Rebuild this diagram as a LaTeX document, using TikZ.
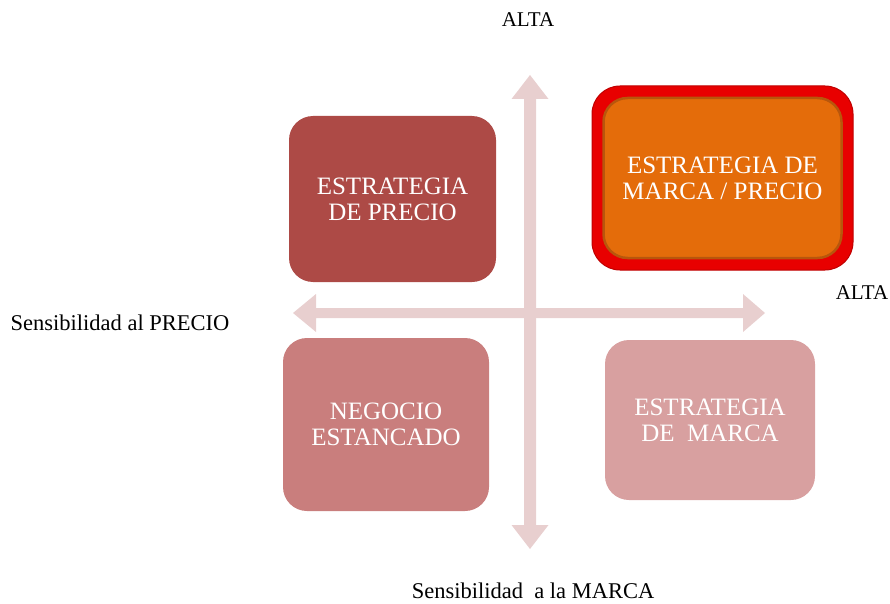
\documentclass[tikz,border=0pt]{standalone}
\usepackage{fontspec}
\setmainfont{Liberation Serif}
\definecolor{arrowc}{HTML}{E8CFCF}
\definecolor{boxA}{HTML}{AD4A46}
\definecolor{boxB}{HTML}{C97E7D}
\definecolor{boxC}{HTML}{D8A0A0}
\definecolor{boxO}{HTML}{E46C0A}
\definecolor{rimO}{HTML}{B8560C}
\definecolor{redrim}{HTML}{E80000}
\definecolor{redrimdark}{HTML}{C00000}
\tikzset{
  quad/.style={rounded corners=24pt, inner sep=0pt, align=center, text=white,
     font=\fontsize{25}{26}\selectfont},
  axislabel/.style={font=\fontsize{21}{24}\selectfont, text=black, inner sep=0pt},
  sensilabel/.style={font=\fontsize{22.5}{24}\selectfont, text=black, inner sep=0pt},
  axis/.style={fill=arrowc, draw=none}
}
\begin{document}
\begin{tikzpicture}[x=1pt,y=-1pt]
\useasboundingbox (0,0) rectangle (890,604);
% arrows
\fill[axis] (530,75) -- (548.5,99) -- (536,99) -- (536,525) -- (548.5,525) -- (530,549)
  -- (511.5,525) -- (524,525) -- (524,99) -- (511.5,99) -- cycle;
\fill[axis] (293,313) -- (316,294) -- (316,308) -- (743,308) -- (743,294) -- (765,313)
  -- (743,332) -- (743,318) -- (316,318) -- (316,332) -- cycle;
% boxes
\node[quad, fill=boxA, minimum width=207pt, minimum height=166pt] (precio) at (392.5,199) {ESTRATEGIA\\DE PRECIO};
\node[quad, fill=boxB, minimum width=206pt, minimum height=173pt] (negocio) at (386,424.5) {NEGOCIO\\ESTANCADO};
\node[quad, fill=boxC, minimum width=210pt, minimum height=160pt] (marca) at (710,420) {ESTRATEGIA\\DE\ \ MARCA};
\node[rounded corners=28pt, fill=redrim, draw=redrimdark, line width=1pt, minimum width=261pt, minimum height=184pt] (rim) at (722.5,178) {};
\node[quad, fill=boxO, draw=rimO, line width=2.5pt, minimum width=238pt, minimum height=160pt] (marcaprecio) at (722.5,178) {ESTRATEGIA DE\\MARCA / PRECIO};
% labels
\node[axislabel] (altaV) at (528,20) {ALTA};
\node[axislabel] (altaH) at (862,293) {ALTA};
\node[sensilabel] (sprecio) at (120,323) {Sensibilidad al PRECIO};
\node[sensilabel] (smarca) at (533,591) {Sensibilidad\ \ a la MARCA};
\end{tikzpicture}
\end{document}
